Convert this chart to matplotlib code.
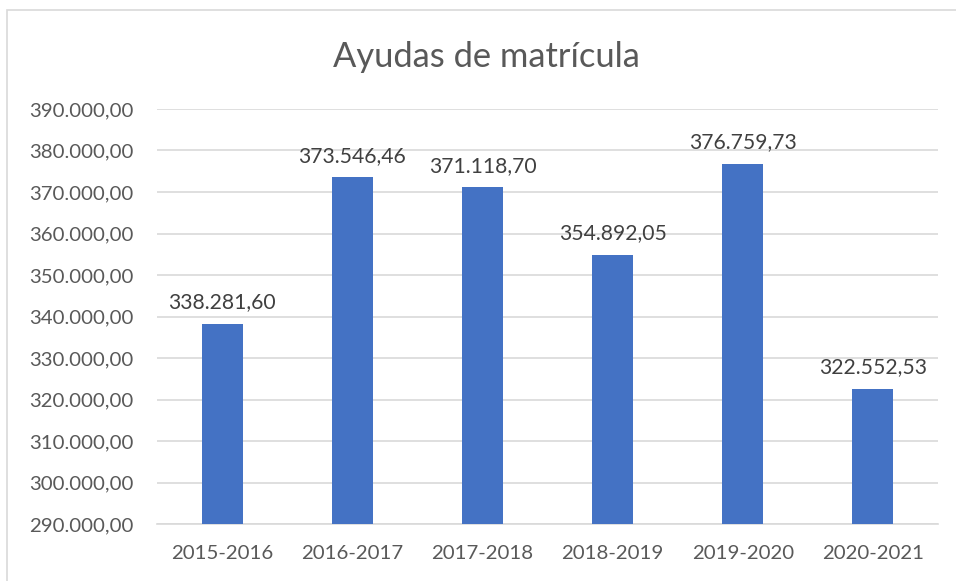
import matplotlib
matplotlib.use("Agg")
import matplotlib.pyplot as plt
from matplotlib.patches import Rectangle
from matplotlib.ticker import FuncFormatter

# Data
categories = ["2015-2016", "2016-2017", "2017-2018", "2018-2019", "2019-2020", "2020-2021"]
values = [338281.60, 373546.46, 371118.70, 354892.05, 376759.73, 322552.53]
title = "Ayudas de matrícula"


def es_format(v, decimals=2):
    s = f"{v:,.{decimals}f}"
    return s.replace(",", "X").replace(".", ",").replace("X", ".")


plt.rcParams['font.family'] = ['Lato', 'DejaVu Sans']
txt_color = "#595959"
grid_color = "#d9d9d9"
bar_color = "#4472c4"

W, H = 956, 581
fig = plt.figure(figsize=(W / 100, H / 100), dpi=100)
ax = fig.add_axes([157 / W, (H - 524) / H, (938 - 157) / W, (524 - 109) / H])

x = range(len(categories))
ax.bar(x, values, width=0.315, color=bar_color, zorder=3)
for xi, v in zip(x, values):
    ax.text(xi, v + 2800, es_format(v), ha="center", va="bottom",
            fontsize=15.2, color="#404040")

ax.set_xlim(-0.5, len(categories) - 0.5)
ax.set_ylim(290000, 390000)
ax.set_yticks(range(290000, 390001, 10000))
ax.yaxis.set_major_formatter(FuncFormatter(lambda v, p: es_format(v)))
ax.set_xticks(list(x))
ax.set_xticklabels(categories)
ax.tick_params(axis="both", length=0, labelsize=14.7, labelcolor=txt_color)
ax.tick_params(axis="y", pad=17)
ax.tick_params(axis="x", pad=15)
ax.grid(axis="y", color=grid_color, linewidth=1.2, zorder=0)
for side in ["top", "right", "left"]:
    ax.spines[side].set_visible(False)
ax.spines["bottom"].set_color(grid_color)
ax.spines["bottom"].set_linewidth(1.2)

fig.text(486 / W, 1 - 57 / H, title, ha="center", va="center",
         fontsize=24.8, color=txt_color)

# chart border
fig.patches.append(Rectangle((7 / W, -0.1), 1.2, 1 - 10 / H + 0.1,
                             transform=fig.transFigure, fill=False,
                             edgecolor=grid_color, linewidth=1.2))

fig.savefig("out.png", dpi=100)
